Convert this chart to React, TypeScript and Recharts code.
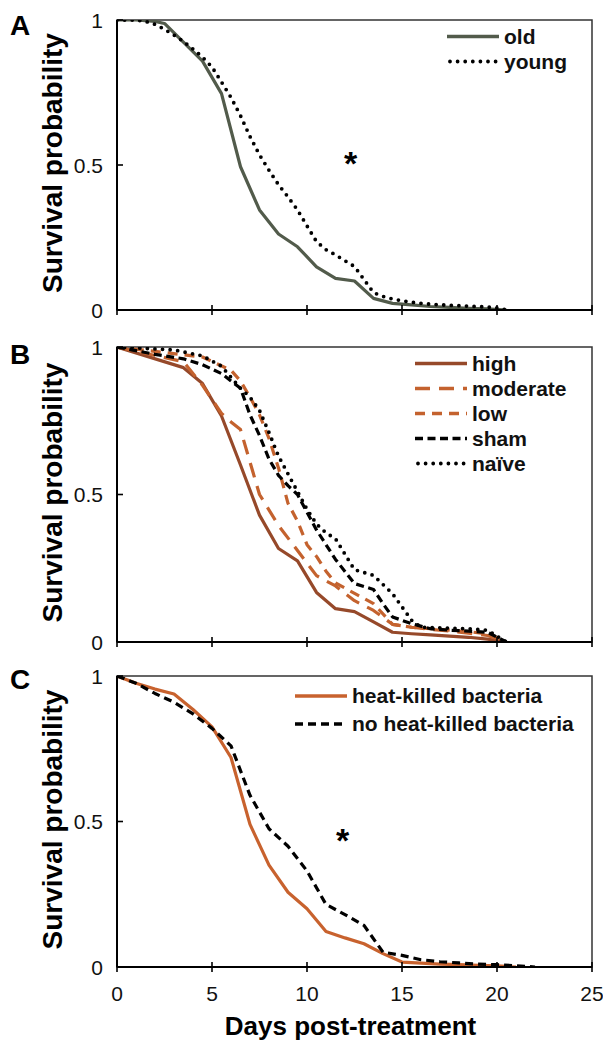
import { LineChart, Line, XAxis, YAxis, ReferenceArea, ReferenceDot, Legend } from "recharts";

const FONT = '"Liberation Sans", Arial, Helvetica, sans-serif';

const dayTicks = [0, 5, 10, 15, 20, 25];
const survTicks = [0, 0.5, 1];

// A: old vs young
const oldDays = [0, 1, 2, 2.5, 4.5, 5.5, 6.5, 7.5, 8.5, 9.5, 10.5, 11.5, 12.5, 13.5, 14.5, 15.5, 16.5, 17.5, 18.5, 19.5, 20.5];
const oldSurv = [1, 1, 0.995, 0.988, 0.858, 0.746, 0.494, 0.345, 0.262, 0.218, 0.149, 0.109, 0.1, 0.04, 0.023, 0.018, 0.012, 0.009, 0.006, 0.004, 0];
const youngDays = [0, 1, 1.5, 2, 2.5, 3, 3.5, 4, 4.5, 5, 5.5, 6, 6.5, 7, 7.5, 8, 8.5, 9, 9.5, 10, 10.5, 11, 11.5, 12, 12.5, 13, 13.5, 14, 14.5, 15, 15.5, 16, 16.5, 17, 17.5, 18, 18.5, 19, 19.5, 20, 20.5];
const youngSurv = [1, 1, 0.995, 0.985, 0.968, 0.948, 0.926, 0.9, 0.872, 0.838, 0.786, 0.733, 0.67, 0.598, 0.535, 0.482, 0.432, 0.39, 0.345, 0.29, 0.236, 0.208, 0.19, 0.17, 0.15, 0.105, 0.06, 0.047, 0.038, 0.032, 0.027, 0.023, 0.02, 0.018, 0.016, 0.015, 0.013, 0.012, 0.01, 0.007, 0];

// B: dose groups
const highDays = [0, 3.5, 4.5, 5.5, 6.5, 7.5, 8.5, 9.5, 10.5, 11.5, 12.5, 13.5, 14.5, 15.5, 16.5, 17.5, 18.5, 19.5, 20.5];
const highSurv = [1, 0.93, 0.876, 0.766, 0.6, 0.43, 0.317, 0.275, 0.168, 0.113, 0.103, 0.068, 0.033, 0.028, 0.024, 0.02, 0.016, 0.01, 0];
const moderateDays = [0, 3.5, 4.5, 5.5, 6, 6.5, 7.5, 8.5, 9.5, 10.5, 11.5, 12.5, 13.5, 14.5, 15.5, 16.5, 17.5, 18.5, 19.5, 20.5];
const moderateSurv = [1, 0.95, 0.87, 0.775, 0.746, 0.72, 0.5, 0.395, 0.31, 0.225, 0.19, 0.14, 0.107, 0.06, 0.05, 0.043, 0.037, 0.03, 0.022, 0];
const lowDays = [0, 4.5, 6, 6.5, 7, 7.5, 8, 8.5, 9, 9.5, 10, 10.5, 11, 11.5, 12.5, 13.5, 14.5, 15.5, 16.5, 17.5, 18.5, 19.5, 20.5];
const lowSurv = [1, 0.966, 0.921, 0.885, 0.83, 0.77, 0.69, 0.59, 0.47, 0.41, 0.33, 0.29, 0.24, 0.2, 0.165, 0.13, 0.06, 0.05, 0.045, 0.04, 0.035, 0.028, 0];
const shamDays = [0, 2, 3.5, 4.5, 5.5, 6, 6.5, 7, 7.5, 8, 8.5, 9, 9.5, 10, 10.5, 11, 11.5, 12.5, 13.5, 14, 14.5, 15.5, 16.5, 17.5, 18.5, 19.5, 20.5];
const shamSurv = [1, 0.975, 0.96, 0.94, 0.91, 0.885, 0.86, 0.77, 0.7, 0.62, 0.565, 0.53, 0.5, 0.44, 0.38, 0.33, 0.28, 0.198, 0.178, 0.13, 0.085, 0.062, 0.045, 0.04, 0.037, 0.033, 0];
const naiveDays = [0, 3, 4.5, 5.5, 6.5, 7, 7.5, 8, 8.5, 9, 9.5, 10, 10.5, 11, 11.5, 12.5, 13.5, 14.5, 15.5, 16, 17.5, 18.5, 19.5, 20.5];
const naiveSurv = [1, 0.99, 0.97, 0.935, 0.86, 0.83, 0.785, 0.71, 0.63, 0.57, 0.51, 0.45, 0.4, 0.37, 0.35, 0.245, 0.226, 0.164, 0.074, 0.05, 0.047, 0.045, 0.04, 0];

// C: heat-killed bacteria
const heatDays = [0, 1, 2, 3, 4, 5, 6, 7, 8, 9, 10, 11, 12, 13, 14, 15, 16, 17, 18, 19, 20, 21];
const heatSurv = [1, 0.975, 0.955, 0.938, 0.885, 0.825, 0.72, 0.49, 0.35, 0.257, 0.2, 0.122, 0.1, 0.08, 0.046, 0.017, 0.013, 0.01, 0.008, 0.006, 0.004, 0];
const noHeatDays = [0, 1, 2, 3, 4, 5, 6, 7, 8, 9, 10, 11, 12, 13, 14, 15, 16, 17, 18, 19, 20, 21, 22];
const noHeatSurv = [1, 0.975, 0.94, 0.91, 0.87, 0.82, 0.76, 0.59, 0.475, 0.415, 0.33, 0.215, 0.18, 0.143, 0.051, 0.04, 0.025, 0.018, 0.014, 0.01, 0.008, 0.004, 0];

type Series = {
  name: string;
  days: number[];
  surv: number[];
  color: string;
  dash?: string;
  round?: boolean;
};

const dotted = "0 7.6";

const panelA: Series[] = [
  { name: "old", days: oldDays, surv: oldSurv, color: "#525b4b" },
  { name: "young", days: youngDays, surv: youngSurv, color: "#000", dash: dotted, round: true },
];
const panelB: Series[] = [
  { name: "high", days: highDays, surv: highSurv, color: "#96492a" },
  { name: "moderate", days: moderateDays, surv: moderateSurv, color: "#c4622e", dash: "15 9" },
  { name: "low", days: lowDays, surv: lowSurv, color: "#c4622e", dash: "10 7" },
  { name: "sham", days: shamDays, surv: shamSurv, color: "#000", dash: "8 4.5" },
  { name: "naïve", days: naiveDays, surv: naiveSurv, color: "#000", dash: dotted, round: true },
];
const panelC: Series[] = [
  { name: "heat-killed bacteria", days: heatDays, surv: heatSurv, color: "#c8622e" },
  { name: "no heat-killed bacteria", days: noHeatDays, surv: noHeatSurv, color: "#000", dash: "8 5" },
];

const toPoints = (days: number[], surv: number[]) => days.map((d, i) => ({ day: d, p: surv[i] }));

function LegendBox({ items, rowH }: { items: Series[]; rowH: number }) {
  return (
    <div style={{ fontFamily: FONT, fontWeight: 700, fontSize: 21, color: "#111" }}>
      {items.map((s) => (
        <div key={s.name} style={{ display: "flex", alignItems: "center", height: rowH, whiteSpace: "nowrap" }}>
          <svg width={52} height={rowH} style={{ display: "block" }}>
            <line
              x1={s.round ? 3 : 0}
              x2={52}
              y1={rowH / 2}
              y2={rowH / 2}
              stroke={s.color}
              strokeWidth={s.round ? 3.8 : 3.5}
              strokeDasharray={s.dash}
              strokeLinecap={s.round ? "round" : "butt"}
            />
          </svg>
          <span style={{ marginLeft: 5 }}>{s.name}</span>
        </div>
      ))}
    </div>
  );
}

type PanelProps = {
  letter: string;
  letterY: number;
  series: Series[];
  height: number;
  marginTop: number;
  axisHeight: number;
  legendLeft: number;
  legendTop: number;
  rowH: number;
  star?: { x: number; y: number };
  showX?: boolean;
};

function Panel({ letter, letterY, series, height, marginTop, axisHeight, legendLeft, legendTop, rowH, star, showX }: PanelProps) {
  const xTick = (p: any) => (
    <g>
      <line x1={p.x} x2={p.x} y1={p.y - 5} y2={p.y + 5} stroke="#000" strokeWidth={1.6} />
      {showX && (
        <text x={p.x} y={p.y + 34} textAnchor="middle" fontSize={21} fontFamily={FONT} fill="#111">
          {p.payload.value}
        </text>
      )}
    </g>
  );
  const yTick = (p: any) => (
    <g>
      <line x1={p.x} x2={p.x + 6} y1={p.y} y2={p.y} stroke="#000" strokeWidth={1.6} />
      <text x={p.x - 14} y={p.y + 7.5} textAnchor="end" fontSize={21} fontFamily={FONT} fill="#111">
        {String(p.payload.value)}
      </text>
    </g>
  );
  const yTitle = (p: any) => {
    const vb = p.viewBox || { y: marginTop, height: 290 };
    const cy = vb.y + vb.height / 2 - 2;
    return (
      <g>
        <text x={10} y={letterY} fontSize={28} fontWeight={700} fontFamily={FONT} fill="#000">
          {letter}
        </text>
        <text
          x={62}
          y={cy}
          transform={`rotate(-90, 62, ${cy})`}
          textAnchor="middle"
          fontSize={28}
          fontWeight={700}
          fontFamily={FONT}
          fill="#000"
        >
          Survival probability
        </text>
      </g>
    );
  };
  const xTitle = (p: any) => {
    const vb = p.viewBox || { x: 117, y: height - axisHeight, width: 475 };
    return (
      <text x={vb.x + vb.width / 2 - 4} y={vb.y + 68} textAnchor="middle" fontSize={26} fontWeight={700} fontFamily={FONT} fill="#000">
        Days post-treatment
      </text>
    );
  };

  return (
    <LineChart width={603} height={height} margin={{ top: marginTop, right: 11, left: 0, bottom: 0 }}>
      <ReferenceArea x1={0} x2={25} y1={0} y2={1} fill="none" stroke="#333" strokeWidth={1.5} />
      <XAxis
        type="number"
        dataKey="day"
        domain={[0, 25]}
        ticks={dayTicks}
        height={axisHeight}
        axisLine={{ stroke: "#000", strokeWidth: 2 }}
        tickLine={false}
        tickSize={0}
        tickMargin={0}
        tick={xTick}
        label={showX ? xTitle : undefined}
        allowDataOverflow
      />
      <YAxis
        type="number"
        domain={[0, 1]}
        ticks={survTicks}
        width={117}
        axisLine={{ stroke: "#000", strokeWidth: 2 }}
        tickLine={false}
        tickSize={0}
        tickMargin={0}
        tick={yTick}
        label={yTitle}
        allowDataOverflow
      />
      {series.map((s) => (
        <Line
          key={s.name}
          data={toPoints(s.days, s.surv)}
          dataKey="p"
          name={s.name}
          type="linear"
          stroke={s.color}
          strokeWidth={s.round ? 3.8 : 3.2}
          strokeDasharray={s.dash}
          strokeLinecap={s.round ? "round" : "butt"}
          strokeLinejoin="round"
          dot={false}
          activeDot={false}
          isAnimationActive={false}
        />
      ))}
      {star && (
        <ReferenceDot
          x={star.x}
          y={star.y}
          r={0}
          label={{ value: "*", position: "center", fontSize: 34, fontWeight: 700, fontFamily: FONT, fill: "#000" }}
        />
      )}
      <Legend
        layout="vertical"
        align="center"
        verticalAlign="middle"
        wrapperStyle={{ left: legendLeft, top: legendTop, width: "auto", height: "auto" }}
        content={() => <LegendBox items={series} rowH={rowH} />}
      />
    </LineChart>
  );
}

export default function App() {
  return (
    <div style={{ position: "absolute", left: 0, top: 0, width: 603, height: 1041, background: "#fff" }}>
      <Panel
        letter="A"
        letterY={35}
        series={panelA}
        height={330}
        marginTop={20}
        axisHeight={20}
        legendLeft={447}
        legendTop={24}
        rowH={25}
        star={{ x: 12.29, y: 0.508 }}
      />
      <Panel
        letter="B"
        letterY={34}
        series={panelB}
        height={330}
        marginTop={17}
        axisHeight={18}
        legendLeft={415}
        legendTop={21}
        rowH={25}
      />
      <Panel
        letter="C"
        letterY={29}
        series={panelC}
        height={381}
        marginTop={16}
        axisHeight={74}
        legendLeft={295}
        legendTop={22}
        rowH={28}
        star={{ x: 11.87, y: 0.436 }}
        showX
      />
    </div>
  );
}
